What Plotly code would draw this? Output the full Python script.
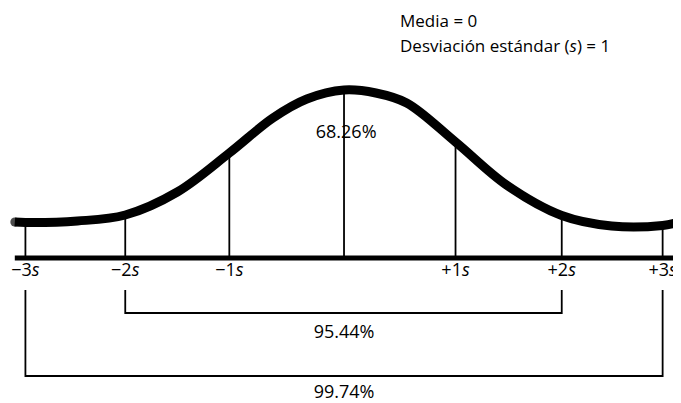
import plotly.graph_objects as go

# Curva normal tal como aparece dibujada (x en unidades de s, altura sobre la línea base)
curva_x = [-3.10, -3.00, -2.51, -2.06, -1.57, -1.08, -0.67, -0.35, 0.0,
           0.30, 0.59, 1.05, 1.53, 2.05, 2.52, 3.00, 3.12]
curva_y = [36, 35.5, 37, 43, 66, 105, 140, 159, 168,
           165, 155, 116, 73, 42.5, 32, 32.5, 35]

# Marcas verticales
marcas_x = [-3.00, -2.06, -1.08, 0.0, 1.05, 2.05, 3.00]
marcas_alto = [35.5, 43, 105, 168, 116, 42.5, 32.5]
etiquetas_x = [-3.00, -2.06, -1.08, 1.05, 2.05, 3.00]
etiquetas = ["−3<i>s</i>", "−2<i>s</i>", "−1<i>s</i>", "+1<i>s</i>", "+2<i>s</i>", "+3<i>s</i>"]

# Intervalos
intervalo_95 = [-2.06, 2.05]
intervalo_99 = [-3.00, 3.00]
porcentajes = ["68.26%", "95.44%", "99.74%"]

FUENTE = dict(family="Open Sans", size=17, color="black")
FUENTE_NUM = dict(family="Open Sans", size=18, color="black")

fig = go.Figure()

# línea base
fig.add_trace(go.Scatter(x=[curva_x[0], curva_x[-1]], y=[0, 0], mode="lines",
                         line=dict(color="black", width=5), hoverinfo="skip"))

# verticales
for mx, my in zip(marcas_x, marcas_alto):
    fig.add_trace(go.Scatter(x=[mx, mx], y=[0, my], mode="lines",
                             line=dict(color="black", width=1.8), hoverinfo="skip"))

# curva
tam = [9] + [0] * (len(curva_x) - 2) + [9]
fig.add_trace(go.Scatter(x=curva_x, y=curva_y, mode="lines+markers",
                         line=dict(color="black", width=9, shape="spline", smoothing=1.0),
                         marker=dict(size=tam, color="black", line=dict(width=0)),
                         hoverinfo="skip"))

# corchetes
fig.add_trace(go.Scatter(x=[intervalo_95[0], intervalo_95[0], intervalo_95[1], intervalo_95[1]],
                         y=[-32, -55, -55, -32], mode="lines",
                         line=dict(color="black", width=1.8), hoverinfo="skip"))
fig.add_trace(go.Scatter(x=[intervalo_99[0], intervalo_99[0], intervalo_99[1], intervalo_99[1]],
                         y=[-32, -118, -118, -32], mode="lines",
                         line=dict(color="black", width=1.8), hoverinfo="skip"))

# etiquetas de marcas
fig.add_trace(go.Scatter(x=etiquetas_x, y=[-13] * len(etiquetas_x), mode="text",
                         text=etiquetas, textfont=FUENTE_NUM, hoverinfo="skip"))

# porcentajes
fig.add_trace(go.Scatter(x=[0.02, 0.0, 0.0], y=[125, -75, -135], mode="text",
                         text=porcentajes, textfont=FUENTE_NUM, hoverinfo="skip"))

# textos superiores
fig.add_annotation(x=0.51, y=238, text="Media = 0", showarrow=False,
                   xanchor="left", yanchor="middle", font=FUENTE)
fig.add_annotation(x=0.51, y=213, text="Desviación estándar (<i>s</i>) = 1", showarrow=False,
                   xanchor="left", yanchor="middle", font=FUENTE)

# la página tiene 8 px de margen, así que la figura es algo menor
fig.update_layout(
    width=673, height=395,
    margin=dict(l=0, r=0, t=0, b=0),
    paper_bgcolor="white", plot_bgcolor="white",
    showlegend=False,
    xaxis=dict(range=[-3.164, 3.173], visible=False, fixedrange=True),
    yaxis=dict(range=[-145, 250], visible=False, fixedrange=True),
)

fig.write_html("out.html")
